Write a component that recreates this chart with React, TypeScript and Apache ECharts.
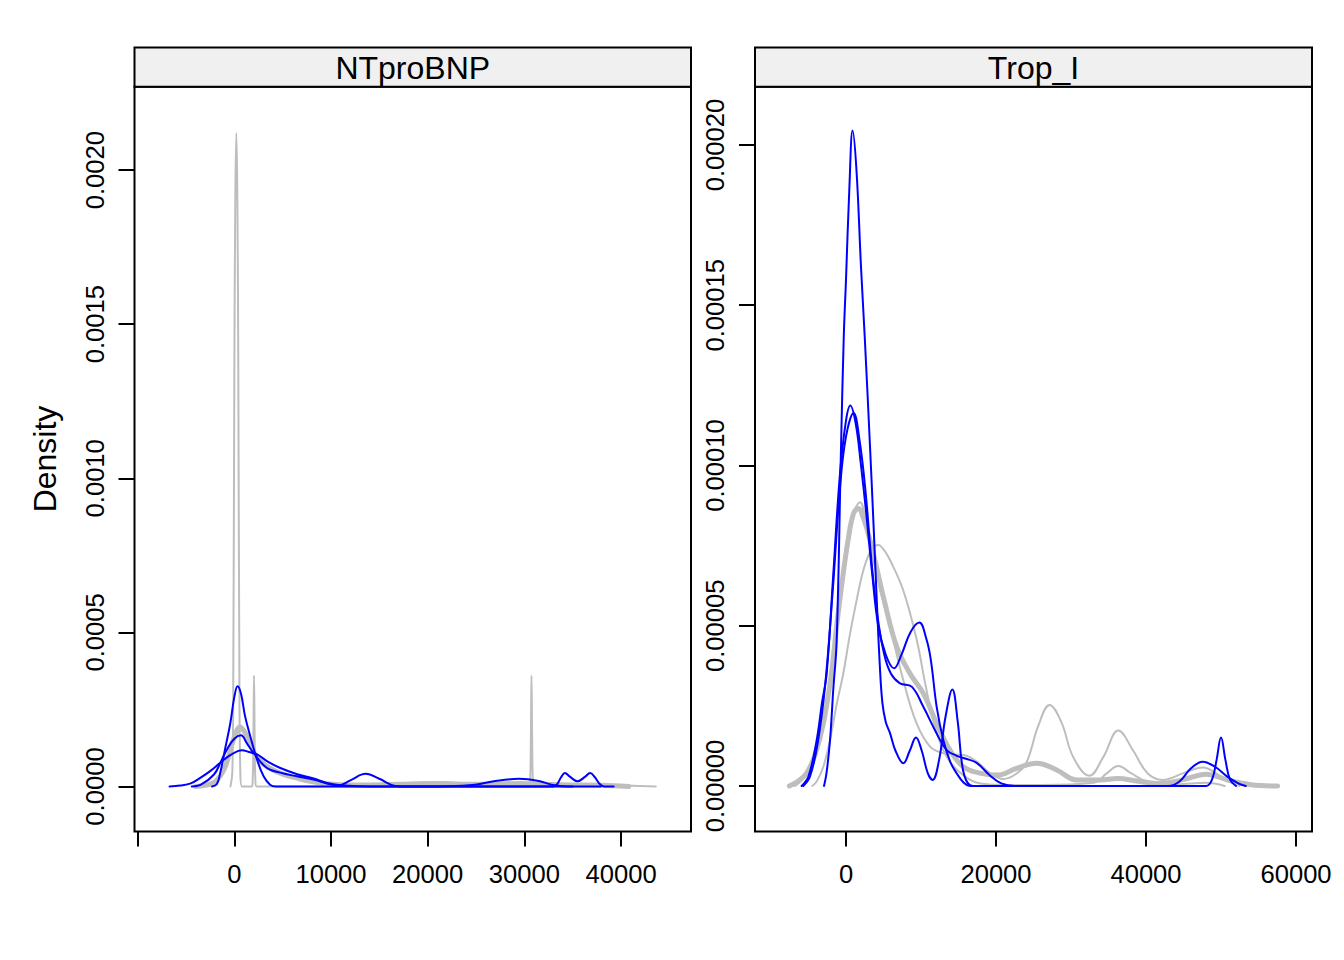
import React, { useEffect, useRef } from "react";
import * as echarts from "echarts";

// ---------- panel titles ----------
const panelTitles = ["NTproBNP", "Trop_I"];
const yTitle = "Density";

// ---------- axis ticks ----------
const ntXTicks = [-10000, 0, 10000, 20000, 30000, 40000];
const ntXLabels = [0, 10000, 20000, 30000, 40000];
const ntYTicks = [0, 0.0005, 0.001, 0.0015, 0.002];
const ntYLabels = ["0.0000", "0.0005", "0.0010", "0.0015", "0.0020"];

const trXTicks = [0, 20000, 40000, 60000];
const trXLabels = [0, 20000, 40000, 60000];
const trYTicks = [0, 0.00005, 0.0001, 0.00015, 0.0002];
const trYLabels = ["0.00000", "0.00005", "0.00010", "0.00015", "0.00020"];

// ---------- NTproBNP densities ----------
const ntObs = [
  [-4000, 0], [-3000, 0.000004], [-2000, 0.000015], [-1000, 0.00006], [0, 0.00016],
  [600, 0.000193], [1200, 0.00017], [1800, 0.000125], [2500, 0.000088], [3500, 0.000062],
  [5000, 0.00004], [6500, 0.000027], [8000, 0.000016], [9500, 0.000009], [11000, 0.000006],
  [14000, 0.000005], [17000, 0.000007], [20000, 0.00001], [22000, 0.00001], [24000, 0.000007],
  [27000, 0.000008], [29500, 0.00001], [32000, 0.000007], [35000, 0.000005], [38000, 0.000004],
  [40800, 0],
];
const ntImpGray1 = [
  [-400, 0], [-200, 0.00005], [-100, 0.0004], [0, 0.0013], [100, 0.0019], [210, 0.00212],
  [320, 0.0019], [420, 0.0013], [520, 0.0004], [620, 0.00005], [800, 0], [1800, 0],
  [1900, 0.00002], [1970, 0.00014], [2040, 0.00036], [2110, 0.00014], [2180, 0.00002],
  [2300, 0], [30500, 0], [30600, 0.00002], [30670, 0.00014], [30740, 0.00036],
  [30810, 0.00014], [30880, 0.00002], [31000, 0], [31300, 0],
];
const ntImpGray2 = [
  [-3500, 0], [-2500, 0.000008], [-1500, 0.00003], [-500, 0.0001], [300, 0.00017],
  [800, 0.000183], [1400, 0.00016], [2000, 0.00012], [3000, 0.00008], [4500, 0.00005],
  [6000, 0.000032], [8000, 0.000017], [10000, 0.000008], [13000, 0.000004], [17000, 0.000006],
  [21000, 0.00001], [25000, 0.000006], [29000, 0.000008], [33000, 0.000006], [37000, 0.000006],
  [40000, 0.000004], [43600, 0],
];
const ntImpBlue1 = [
  [-2300, 0], [-1800, 0.000008], [-1450, 0.000045], [-900, 0.00013], [-410, 0.000206],
  [0, 0.00029], [340, 0.000325], [700, 0.0003], [1100, 0.00023], [1650, 0.000163],
  [2350, 0.0000875], [3030, 0.000033], [3700, 0.000006], [4300, 0], [33000, 0],
  [33400, 0.000008], [33800, 0.00003], [34200, 0.000044], [34700, 0.000032], [35500, 0.000017],
  [36300, 0.000032], [36800, 0.000044], [37300, 0.00003], [37800, 0.000008], [38300, 0],
  [39240, 0],
];
const ntImpBlue2 = [
  [-4400, 0], [-3500, 0.000005], [-2100, 0.000039], [-1400, 0.00008], [-760, 0.00012],
  [0, 0.000155], [690, 0.000166], [1300, 0.00014], [2000, 0.000109], [3380, 0.00006],
  [5000, 0.000043], [6480, 0.000033], [8500, 0.00002], [10000, 0.000006], [10700, 0.000003],
  [12000, 0.00002], [13600, 0.000041], [15000, 0.000025], [16650, 0.000002], [18000, 0],
  [37900, 0],
];
const ntImpBlue3 = [
  [-6700, 0], [-5580, 0.000003], [-4500, 0.00001], [-3520, 0.000028], [-2500, 0.00005],
  [-1450, 0.000077], [-500, 0.0001], [800, 0.000118], [1500, 0.000112], [2350, 0.000104],
  [3500, 0.00008], [4760, 0.00006], [6500, 0.00004], [8200, 0.000026], [9500, 0.000012],
  [11000, 0.000004], [13000, 0.000001], [18000, 0], [22000, 0.000001], [24900, 0.000006],
  [27000, 0.000018], [29470, 0.000025], [31500, 0.000018], [32800, 0.000006], [34000, 0.000001],
  [35000, 0],
];

// ---------- Trop_I densities ----------
const trObs = [
  [-7550, 0], [-6400, 0.0000015], [-5240, 0.000004], [-4100, 0.00001], [-3020, 0.0000195],
  [-2000, 0.000034], [-1240, 0.00005], [-500, 0.000064], [300, 0.000077], [1000, 0.000085],
  [1640, 0.0000866], [2400, 0.000083], [3200, 0.0000767], [4100, 0.000068], [4980, 0.000059],
  [6750, 0.0000435], [8530, 0.0000351], [10310, 0.0000289], [12090, 0.0000195], [13870, 0.0000112],
  [15640, 0.000006], [17870, 0.000004], [20090, 0.0000034], [22750, 0.0000055], [25420, 0.0000071],
  [28090, 0.000005], [30750, 0.0000019], [33860, 0.0000019], [36220, 0.0000023], [39000, 0.0000015],
  [41780, 0.0000008], [45000, 0.000002], [48000, 0.0000037], [51000, 0.0000018], [54000, 0.0000004],
  [57560, 0],
];
const trImpGray1 = [
  [-6800, 0], [-5500, 0.000003], [-4000, 0.000011], [-3000, 0.000021], [-2000, 0.000036],
  [-1000, 0.000055], [0, 0.000072], [1000, 0.000085], [1870, 0.0000885], [2700, 0.000082],
  [3640, 0.0000715], [4700, 0.00006], [5870, 0.0000497], [7640, 0.000033], [9420, 0.0000195],
  [11200, 0.0000123], [12980, 0.0000102], [14300, 0.0000098], [15640, 0.0000097], [17420, 0.0000076],
  [19200, 0.000004], [21000, 0.0000022], [22500, 0.0000035], [24000, 0.000007], [25600, 0.0000185],
  [27150, 0.0000253], [28700, 0.00002], [30300, 0.000009], [32440, 0.0000032], [34300, 0.000009],
  [36310, 0.0000173], [38300, 0.000011], [40200, 0.000004], [42220, 0.0000019], [45000, 0.000004],
  [47560, 0.0000058], [50000, 0.000003], [52440, 0],
];
const trImpGray2 = [
  [-4500, 0], [-3910, 0.0000014], [-3020, 0.000006], [-2130, 0.0000143], [-1200, 0.000026],
  [-360, 0.0000351], [500, 0.000047], [1420, 0.000058], [2400, 0.000068], [3400, 0.0000738],
  [4310, 0.0000752], [5100, 0.0000735], [5870, 0.0000705], [7640, 0.000061], [9420, 0.0000457],
  [10600, 0.0000315], [11800, 0.000019], [12900, 0.0000115], [14200, 0.0000065], [15850, 0.000003],
  [17500, 0.000001], [20000, 0.0000004], [26000, 0.0000003], [33000, 0.000001], [34800, 0.000004],
  [36310, 0.0000062], [38000, 0.000004], [40000, 0.0000015], [44000, 0.0000005], [48000, 0.000001],
  [50500, 0],
];
const trImpBlue1 = [
  [-2930, 0], [-2600, 0.000004], [-2130, 0.0000143], [-1700, 0.00003], [-1240, 0.0000455],
  [-670, 0.000105], [-300, 0.00014], [0, 0.000158], [440, 0.000186], [880, 0.0002045],
  [1400, 0.000192], [2000, 0.000162], [2500, 0.00014], [3200, 0.000106], [3700, 0.00008],
  [4100, 0.000058], [4500, 0.000038], [4850, 0.000026], [5300, 0.00002], [5870, 0.0000165],
  [6600, 0.000011], [7640, 0.0000071], [8500, 0.000011], [9330, 0.0000151], [10100, 0.000011],
  [10900, 0.000004], [11550, 0.0000019], [12400, 0.000008], [13300, 0.000022], [14180, 0.0000301],
  [14900, 0.00002], [15600, 0.000005], [16530, 0.0000003], [17500, 0], [48000, 0],
  [48800, 0.000002], [49400, 0.000008], [50000, 0.0000151], [50600, 0.000008], [51200, 0.000002],
  [52000, 0],
];
const trImpBlue2 = [
  [-5910, 0], [-5000, 0.000003], [-3910, 0.0000143], [-3200, 0.000026], [-2580, 0.000035],
  [-1690, 0.0000663], [-800, 0.0000975], [0, 0.000114], [573, 0.0001187], [1300, 0.000113],
  [2000, 0.0001], [2700, 0.000085], [3500, 0.000066], [4300, 0.00005], [5300, 0.000041],
  [6400, 0.0000367], [7400, 0.000041], [8600, 0.000048], [9780, 0.000051], [10700, 0.000046],
  [11300, 0.0000395], [12090, 0.0000247], [12980, 0.0000143], [13900, 0.0000075], [14750, 0.000004],
  [15700, 0.000001], [16530, 0], [18000, 0],
];
const trImpBlue3 = [
  [-5700, 0], [-4800, 0.000003], [-3800, 0.000013], [-2800, 0.000031], [-1800, 0.00006],
  [-800, 0.000093], [0, 0.000109], [1013, 0.0001164], [1800, 0.000108], [2600, 0.000092],
  [3400, 0.00007], [4200, 0.000053], [5100, 0.000041], [6000, 0.000035], [7200, 0.000032],
  [8760, 0.000031], [10310, 0.0000247], [12090, 0.0000164], [13420, 0.0000112], [14700, 0.0000095],
  [16000, 0.0000085], [17420, 0.0000072], [19200, 0.0000033], [20700, 0.0000008], [22500, 0],
  [43000, 0], [44500, 0.0000015], [46000, 0.0000055], [47560, 0.0000076], [49200, 0.000006],
  [50800, 0.000003], [52300, 0.0000008], [53300, 0],
];

const GRAY = "#BEBEBE";
const BLUE = "#0000FF";
const FONT = "'Liberation Sans', Arial, Helvetica, sans-serif";

function labelFrom(ticks: number[], labels: string[]) {
  return (v: number) => {
    const i = ticks.findIndex((t) => Math.abs(t - v) < 1e-10);
    return i >= 0 ? labels[i] : "";
  };
}

export default function App() {
  const ref = useRef<HTMLDivElement>(null);

  useEffect(() => {
    if (!ref.current) return;
    const chart = echarts.init(ref.current, undefined, { renderer: "svg" });

    const grids = [
      { left: 134.5, top: 86.7, width: 556.5, height: 744.8 },
      { left: 755, top: 86.7, width: 557, height: 744.8 },
    ];

    const xAxisBase = (min: number, max: number, ticks: number[], labels: number[], gi: number) => ({
      type: "value",
      gridIndex: gi,
      position: "bottom",
      min,
      max,
      axisLine: { show: false, onZero: false },
      splitLine: { show: false },
      axisTick: {
        show: true,
        customValues: ticks,
        length: 15,
        inside: false,
        lineStyle: { color: "#000", width: 2 },
      },
      axisLabel: {
        show: true,
        customValues: labels,
        margin: 29,
        color: "#000",
        fontSize: 25.6,
        fontFamily: FONT,
        lineHeight: 26,
        formatter: (v: number) => String(v),
      },
    });

    const yAxisBase = (min: number, max: number, ticks: number[], labels: string[], gi: number) => ({
      type: "value",
      gridIndex: gi,
      position: "left",
      min,
      max,
      axisLine: { show: false, onZero: false },
      splitLine: { show: false },
      axisTick: {
        show: true,
        customValues: ticks,
        length: 16,
        inside: false,
        lineStyle: { color: "#000", width: 2 },
      },
      axisLabel: {
        show: true,
        customValues: ticks,
        rotate: 90,
        margin: 27,
        color: "#000",
        fontSize: 25.6,
        fontFamily: FONT,
        lineHeight: 26,
        formatter: labelFrom(ticks, labels),
      },
    });

    const line = (data: number[][], gi: number, color: string, width: number) => ({
      type: "line",
      xAxisIndex: gi,
      yAxisIndex: gi,
      data,
      smooth: 0.4,
      symbol: "none",
      lineStyle: { color, width, join: "round", cap: "round" },
      silent: true,
    });

    const strip = (gi: number, title: string) => {
      const g = grids[gi];
      return [
        {
          type: "rect",
          shape: { x: g.left, y: 47.5, width: g.width, height: 39.2 },
          style: { fill: "#F0F0F0", stroke: "#000", lineWidth: 2 },
          z: 10,
        },
        {
          type: "text",
          x: g.left + g.width / 2,
          y: 67.5,
          style: {
            text: title,
            fill: "#000",
            fontSize: 32,
            fontFamily: FONT,
            textAlign: "center",
            textVerticalAlign: "middle",
          },
          z: 11,
        },
      ];
    };

    chart.setOption({
      animation: false,
      backgroundColor: "#fff",
      grid: grids.map((g) => ({
        ...g,
        show: true,
        borderColor: "#000",
        borderWidth: 2,
        backgroundColor: "transparent",
        containLabel: false,
      })),
      xAxis: [
        xAxisBase(-10323, 47237, ntXTicks, ntXLabels, 0),
        xAxisBase(-12133, 62133, trXTicks, trXLabels, 1),
      ],
      yAxis: [
        yAxisBase(-0.000146, 0.0022706, ntYTicks, ntYLabels, 0),
        yAxisBase(-0.0000142, 0.00021819, trYTicks, trYLabels, 1),
      ],
      series: [
        line(ntObs, 0, GRAY, 5),
        line(ntImpGray1, 0, GRAY, 2),
        line(ntImpGray2, 0, GRAY, 2),
        line(ntImpBlue1, 0, BLUE, 2),
        line(ntImpBlue2, 0, BLUE, 2),
        line(ntImpBlue3, 0, BLUE, 2),
        line(trObs, 1, GRAY, 5),
        line(trImpGray1, 1, GRAY, 2),
        line(trImpGray2, 1, GRAY, 2),
        line(trImpBlue1, 1, BLUE, 2),
        line(trImpBlue2, 1, BLUE, 2),
        line(trImpBlue3, 1, BLUE, 2),
      ],
      graphic: [
        ...strip(0, panelTitles[0]),
        ...strip(1, panelTitles[1]),
        {
          type: "text",
          x: 45,
          y: 459,
          rotation: Math.PI / 2,
          style: {
            text: yTitle,
            fill: "#000",
            fontSize: 32,
            fontFamily: FONT,
            textAlign: "center",
            textVerticalAlign: "middle",
          },
        },
      ],
    });

    return () => chart.dispose();
  }, []);

  return (
    <div
      ref={ref}
      style={{ position: "fixed", left: 0, top: 0, width: 1344, height: 960, background: "#fff" }}
    />
  );
}
